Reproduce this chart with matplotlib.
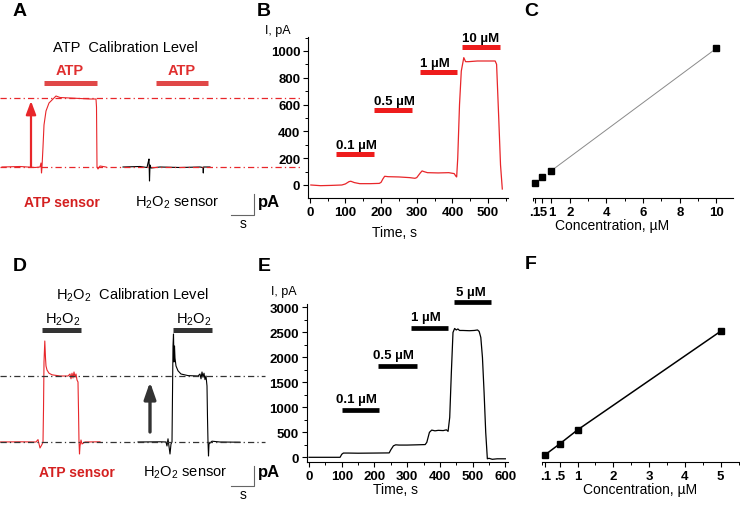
import numpy as np
import matplotlib
matplotlib.use('Agg')
from matplotlib import pyplot as plt
from matplotlib.ticker import MultipleLocator

plt.rcParams['font.family'] = ['Liberation Sans', 'DejaVu Sans']
plt.rcParams['mathtext.fontset'] = 'custom'
plt.rcParams['mathtext.rm'] = 'Liberation Sans'
plt.rcParams['mathtext.bf'] = 'Liberation Sans:bold'

RED = '#e8262a'
BAR_RED = '#ee1c1c'
SCALE_GREY = '#666666'
H2O2 = r'H$_\mathregular{2}$O$_\mathregular{2}$'

# ---- panel A: ATP calibration (time s, current pA) ----
a_atp_t = [2, 20, 35, 40, 41, 41.5, 42, 43, 44, 46, 49, 53, 56, 60, 70, 80, 90, 96, 96.5, 97, 98, 100, 106]
a_atp_i = [0, 5, -5, 0, 40, -60, 0, 200, 420, 560, 640, 680, 710, 695, 690, 685, 680, 680, 600, 0, -20, 10, 0]
a_h2o2_t = [123, 140, 147, 148, 149, 149.5, 150, 151, 160, 180, 200, 203, 203.3, 203.6, 210]
a_h2o2_i = [0, 5, -5, 40, 80, -140, 20, -10, 0, -5, 0, -5, -60, 0, 0]
a_level = [0, 690]
a_bars = [(44, 97), (156, 208)]

# ---- panel D: H2O2 calibration ----
d_atp_t = [0, 20, 36, 38, 40, 42, 43, 43.5, 44, 44.8, 45.5, 46, 47, 49, 52, 60, 68, 70, 71, 72, 73, 74, 75,
           76, 77, 78, 78.5, 79, 79.5, 80, 81, 82, 85, 100]
d_atp_i = [0, 5, 0, 60, -150, -60, 0, 800, 2000, 2525, 2100, 1900, 1800, 1720, 1680, 1650, 1650, 1700, 1580,
           1720, 1600, 1750, 1620, 1700, 1550, 1500, 800, 0, -300, -100, 50, -50, 0, 5]
d_h2o2_t = [138, 160, 166, 167, 168, 170, 171, 172, 172.5, 173, 173.5, 174, 174.5, 175, 176, 178, 181, 188, 198,
            200, 201, 202, 203, 204, 205, 206, 207, 207.5, 208, 208.5, 209, 212, 220, 240]
d_h2o2_i = [0, 5, 0, -100, 80, -300, -50, 0, 1200, 2400, 2700, 2000, 2400, 2100, 1900, 1780, 1700, 1660, 1650,
            1700, 1580, 1750, 1620, 1720, 1560, 1650, 1400, 600, 0, -350, -50, 20, 0, -5]
d_level = [0, 1650]
d_bars = [(42, 81), (173, 212)]

# ---- panel B: ATP steps ----
b_t = [3, 30, 60, 90, 100, 110, 115, 125, 140, 170, 195, 200, 205, 210, 220, 250, 280, 295, 300, 310, 315, 320,
       330, 360, 390, 405, 410, 412, 415, 420, 425, 432, 437, 445, 470, 500, 520, 524, 530, 535, 540]
b_i = [0, -5, -3, 0, 8, 25, 28, 18, 10, 10, 12, 20, 45, 65, 62, 60, 55, 50, 55, 90, 105, 100,
       92, 90, 92, 85, 65, 60, 200, 600, 850, 950, 920, 920, 925, 925, 925, 900, 500, 150, -30]
b_labels = ['0.1 µM', '0.5 µM', '1 µM', '10 µM']
b_start = [73, 181, 308, 427]
b_end = [180, 287, 413, 533]
b_level = [229, 560, 843, 1030]

# ---- panel C: ATP calibration curve ----
c_conc = [0.1, 0.5, 1, 10]
c_resp = [15, 57, 107, 1020]

# ---- panel E: H2O2 steps ----
e_t = [0, 95, 100, 105, 120, 150, 200, 245, 250, 258, 265, 275, 300, 330, 355, 360, 368, 375, 385, 395, 410, 420,
       425, 430, 435, 440, 445, 450, 455, 460, 470, 490, 505, 515, 520, 525, 530, 535, 540, 545, 550, 560, 575, 600]
e_i = [0, 0, 60, 85, 85, 82, 85, 88, 150, 230, 250, 245, 245, 250, 255, 300, 500, 545, 530, 540, 535, 550,
       520, 800, 1700, 2500, 2580, 2550, 2570, 2540, 2540, 2535, 2540, 2550, 2520, 2400, 2000, 1300, 500, -30,
       -20, -40, -30, -30]
e_labels = ['0.1 µM', '0.5 µM', '1 µM', '5 µM']
e_start = [100, 212, 311, 442]
e_end = [215, 330, 426, 557]
e_level = [948, 1837, 2599, 3106]
e_text_x = [83, 196, 311, 449]

# ---- panel F: H2O2 calibration curve ----
f_conc = [0.1, 0.5, 1, 5]
f_resp = [53, 267, 548, 2525]

fig = plt.figure(figsize=(7.4, 5.06), dpi=100)

dash = (0, (5, 2.5, 1, 2.5))


def schematic(ax, t1, i1, t2, i2, level, bars, col_level, bar_col, lab_top, lab_col, lab_weight,
              title, title_y, bar_y, lab_y, sensor_y, sb_top, sb_bot, s_y, arrow, arrow_col, arrow_lw):
    ax.plot(t1, i1, color=RED, lw=0.8)
    ax.plot(t2, i2, color='black', lw=0.8)
    for lv in level:
        ax.plot([0, 300 if col_level == RED else 265], [lv, lv], color=col_level, lw=0.9, linestyle=dash)
    for (s, e) in bars:
        ax.plot([s, e], [bar_y, bar_y], color=bar_col, lw=3.6, solid_capstyle='butt')
    ax.text(lab_top[0], lab_y, lab_top[2], color=lab_col, fontsize=10.5, fontweight=lab_weight, ha='center', va='center')
    ax.text(lab_top[1], lab_y, lab_top[2], color=lab_col, fontsize=10.5, fontweight=lab_weight, ha='center', va='center')
    ax.text(title[0], title_y, title[1], fontsize=10.5, ha='center', va='center')
    ax.annotate('', xy=(arrow[0], arrow[2]), xytext=(arrow[0], arrow[1]),
                arrowprops=dict(arrowstyle=arrow[3], lw=arrow_lw, color=arrow_col, shrinkA=0, shrinkB=0))
    ax.text(sensor_y[0], sensor_y[2], 'ATP sensor', color='#d42020', fontsize=10, fontweight='bold',
            ha='center', va='center')
    ax.text(sensor_y[1], sensor_y[2], H2O2 + ' sensor', fontsize=10.5, ha='center', va='center')
    ax.plot([254, 254, 231], [sb_top, sb_bot, sb_bot], color=SCALE_GREY, lw=0.8)
    ax.text(258, sensor_y[2], 'pA', fontsize=12, fontweight='bold', ha='left', va='center')
    ax.text(243, s_y, 's', fontsize=10, ha='center', va='center')
    ax.set_xlim(0, 300)
    ax.axis('off')


axA = fig.add_axes([0, 1 - 235 / 506, 300 / 740, 205 / 506])
axA.set_ylim(-670, 1380)
schematic(axA, a_atp_t, a_atp_i, a_h2o2_t, a_h2o2_i, a_level, a_bars, RED, '#e04848',
          [70, 182, 'ATP'], '#e03030', 'bold', (125, 'ATP  Calibration Level'), 1200, 840, 970,
          (62, 177, -350), -270, -480, -560, (31, 0, 660, '-|>,head_width=0.3,head_length=0.8'), RED, 1.6)

axD = fig.add_axes([0, 1 - 505 / 506, 300 / 740, 225 / 506])
axD.set_ylim(-1550, 4075)
schematic(axD, d_atp_t, d_atp_i, d_h2o2_t, d_h2o2_i, d_level, d_bars, '#333333', '#333333',
          [63, 194, H2O2], 'black', 'normal', (132, H2O2 + '  Calibration Level'), 3700, 2800, 3075,
          (77, 185, -750), -600, -1100, -1300, (150, 250, 1500, '-|>,head_width=0.35,head_length=1.0'),
          '#333333', 2.4)


def style_axis(ax, left=True):
    for side in ['top', 'right']:
        ax.spines[side].set_visible(False)
    if not left:
        ax.spines['left'].set_visible(False)
        ax.set_yticks([])
    ax.tick_params(which='major', direction='out', length=3.5, width=0.8, labelsize=9.5, pad=2)
    ax.tick_params(which='minor', direction='out', length=2.2, width=0.7)
    for lab in ax.get_xticklabels() + ax.get_yticklabels():
        lab.set_fontweight('bold')


def put_xlabel(ax, text, x, y):
    ax.set_xlabel(text, fontsize=10)
    ax.xaxis.set_label_coords(x, y)
    ax.xaxis.label.set_va('center')


# ---- B ----
axB = fig.add_axes([308 / 740, 1 - 199 / 506, 200 / 740, 161 / 506])
axB.plot(b_t, b_i, color=RED, lw=0.9)
for s, e, lv, lab in zip(b_start, b_end, b_level, b_labels):
    axB.plot([s, e], [lv, lv], color=BAR_RED, lw=3.6, solid_capstyle='butt', clip_on=False)
    axB.text(s, lv + 45, lab, fontsize=9.5, fontweight='bold', ha='left', va='baseline')
axB.set_xlim(-5, 556)
axB.set_ylim(-97, 1104)
axB.set_xticks(np.arange(0, 501, 100))
axB.set_yticks(np.arange(0, 1001, 200))
axB.xaxis.set_minor_locator(MultipleLocator(50))
axB.yaxis.set_minor_locator(MultipleLocator(100))
style_axis(axB)
put_xlabel(axB, 'Time, s', 0.435, -0.211)
fig.text(278 / 740, 1 - 31 / 506, 'I, pA', fontsize=9, ha='center', va='center')

# ---- C ----
axC = fig.add_axes([533 / 740, 1 - 199 / 506, 200 / 740, 161 / 506])
axC.plot(c_conc[2:], c_resp[2:], color='#8a8a8a', lw=0.7)
axC.plot(c_conc, c_resp, 's', color='black', ms=4.5, clip_on=False)
axC.set_xlim(0, 10.9)
axC.set_ylim(-97, 1104)
axC.set_xticks([0.1, 0.5, 1, 2, 4, 6, 8, 10])
axC.set_xticklabels(['.1', '.5', '1', '2', '4', '6', '8', '10'])
axC.xaxis.set_minor_locator(MultipleLocator(1))
style_axis(axC, left=False)
put_xlabel(axC, 'Concentration, µM', 0.395, -0.168)

# ---- E ----
axE = fig.add_axes([306.7 / 740, 1 - 463.3 / 506, 201.6 / 740, 158.3 / 506])
axE.plot(e_t, e_i, color='black', lw=0.9)
for s, e, lv, lab, tx in zip(e_start, e_end, e_level, e_labels, e_text_x):
    axE.plot([s, e], [lv, lv], color='black', lw=3.4, solid_capstyle='butt', clip_on=False)
    axE.text(tx, lv + 150, lab, fontsize=9.5, fontweight='bold', ha='left', va='baseline')
axE.set_xlim(-7, 609)
axE.set_ylim(-100, 3070)
axE.set_xticks(np.arange(0, 601, 100))
axE.set_yticks(np.arange(0, 3001, 500))
axE.xaxis.set_minor_locator(MultipleLocator(50))
axE.yaxis.set_minor_locator(MultipleLocator(250))
style_axis(axE)
put_xlabel(axE, 'Time, s', 0.438, -0.169)
fig.text(284 / 740, 1 - 292 / 506, 'I, pA', fontsize=9, ha='center', va='center')

# ---- F ----
axF = fig.add_axes([541.7 / 740, 1 - 463.3 / 506, 196.9 / 740, 158.3 / 506])
axF.plot(f_conc, f_resp, '-s', color='black', lw=1.1, ms=4.5, clip_on=False)
axF.set_xlim(0, 5.5)
axF.set_ylim(-100, 3070)
axF.set_xticks([0.1, 0.5, 1, 2, 3, 4, 5])
axF.set_xticklabels(['.1', '.5', '1', '2', '3', '4', '5'])
axF.xaxis.set_minor_locator(MultipleLocator(0.5))
style_axis(axF, left=False)
put_xlabel(axF, 'Concentration, µM', 0.50, -0.169)

# panel letters
for letter, x, y in [('A', 20, 11), ('B', 264, 11), ('C', 531, 11),
                     ('D', 20, 267), ('E', 264, 267), ('F', 531, 265)]:
    fig.text(x / 740, 1 - y / 506, letter, fontsize=14, fontweight='bold', ha='center', va='center')

fig.savefig('out.png', dpi=100)
